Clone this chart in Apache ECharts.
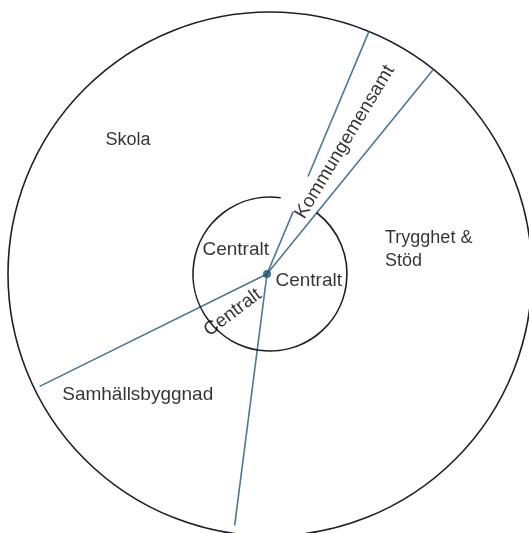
<!DOCTYPE html>
<html><head><meta charset="utf-8">
<script src="https://cdn.jsdelivr.net/npm/echarts@6/dist/echarts.min.js"></script>
<style>html,body{margin:0;padding:0;background:#fff}#c{width:529px;height:533px}</style>
</head><body><div id="c"></div>
<script>
// ---- diagram data (polar: [radius, angle in degrees, counter-clockwise from east]) ----
const outerRadius = 262;
const innerRadius = 77;
const innerGap = [53, 82];            // angular opening of the inner ring
const hub = [3, 180];                 // where the dividers meet
const dividerNames = ['Skola|Kommungemensamt', 'Kommungemensamt|Trygghet', 'Skola|Samhällsbyggnad', 'Samhällsbyggnad|Trygghet'];
const dividerEnds = [[262.0, 67.8], [261.4, 51.4], [256.3, 206.0], [253.9, 262.0]];
const dividerBreak = [[66.8, 69.6], [104.7, 68.7]];  // break in the first divider around the label
const labelTexts = ['Skola', 'Trygghet &\nStöd', 'Samhällsbyggnad', 'Centralt', 'Centralt', 'Centralt', 'Kommungemensamt'];
const labelPos = [[195.2, 136.7], [117.5, 11.8], [179.4, 222.5], [42.0, 144.7], [39.4, 349.5], [53.7, 226.0], [151.8, 60.4]];
const labelRotate = [0, 0, 0, 0, 0, 37, 59];
const labelAlign = ['center', 'left', 'center', 'center', 'center', 'center', 'center'];
const labelSize = [18, 18, 19, 19, 19, 19, 19];

const lineColor = '#4d7793';
const ringColor = '#1d1f2b';
const textColor = '#000000';
const fontFamily = '"Liberation Sans", Arial, sans-serif';

const chart = echarts.init(document.getElementById('c'), null, {renderer: 'canvas'});

const series = [];
// divider lines
dividerEnds.forEach((end, i) => {
  if (i === 0) {
    series.push({type: 'line', coordinateSystem: 'polar', data: [hub, dividerBreak[0]], symbol: 'none', silent: true,
      lineStyle: {color: lineColor, width: 1.6}, z: 2});
    series.push({type: 'line', coordinateSystem: 'polar', data: [dividerBreak[1], end], symbol: 'none', silent: true,
      lineStyle: {color: lineColor, width: 1.6}, z: 2});
  } else {
    series.push({type: 'line', coordinateSystem: 'polar', data: [hub, end], symbol: 'none', silent: true,
      lineStyle: {color: lineColor, width: 1.6}, z: 2});
  }
});
// inner ring (open between innerGap angles)
series.push({
  type: 'custom', coordinateSystem: 'polar', silent: true, z: 3,
  data: [[innerRadius, 0]],
  renderItem: function (params, api) {
    const c = api.coord([0, 0]);
    const p = api.coord([api.value(0), 0]);
    const r = Math.hypot(p[0] - c[0], p[1] - c[1]);
    return {
      type: 'arc',
      shape: {cx: c[0], cy: c[1], r: r,
        startAngle: -innerGap[1] * Math.PI / 180,
        endAngle: -(innerGap[0] + 360) * Math.PI / 180,
        clockwise: false},
      style: {stroke: ringColor, lineWidth: 1.6, fill: null}
    };
  }
});
// hub dot
series.push({type: 'scatter', coordinateSystem: 'polar', data: [hub], symbolSize: 8, silent: true,
  itemStyle: {color: '#1e4f70'}, z: 5});
// labels
labelTexts.forEach((t, i) => {
  series.push({
    type: 'scatter', coordinateSystem: 'polar', silent: true, symbolSize: 0, z: 6,
    data: [{value: labelPos[i], name: t}],
    label: {
      show: true, formatter: t,
      position: labelAlign[i] === 'left' ? 'right' : 'inside',
      distance: 0,
      rotate: labelRotate[i],
      align: labelAlign[i],
      verticalAlign: 'middle',
      color: textColor, fontSize: labelSize[i], fontFamily: fontFamily, lineHeight: 23
    }
  });
});

chart.setOption({
  animation: false,
  backgroundColor: '#ffffff',
  polar: {center: [270, 274], radius: outerRadius},
  angleAxis: {
    type: 'value', min: 0, max: 360, startAngle: 0, clockwise: false,
    axisLine: {show: true, lineStyle: {color: ringColor, width: 1.6}},
    axisTick: {show: false}, axisLabel: {show: false}, splitLine: {show: false}
  },
  radiusAxis: {
    type: 'value', min: 0, max: outerRadius,
    axisLine: {show: false}, axisTick: {show: false}, axisLabel: {show: false}, splitLine: {show: false}
  },
  series: series
});
</script>
</body></html>
